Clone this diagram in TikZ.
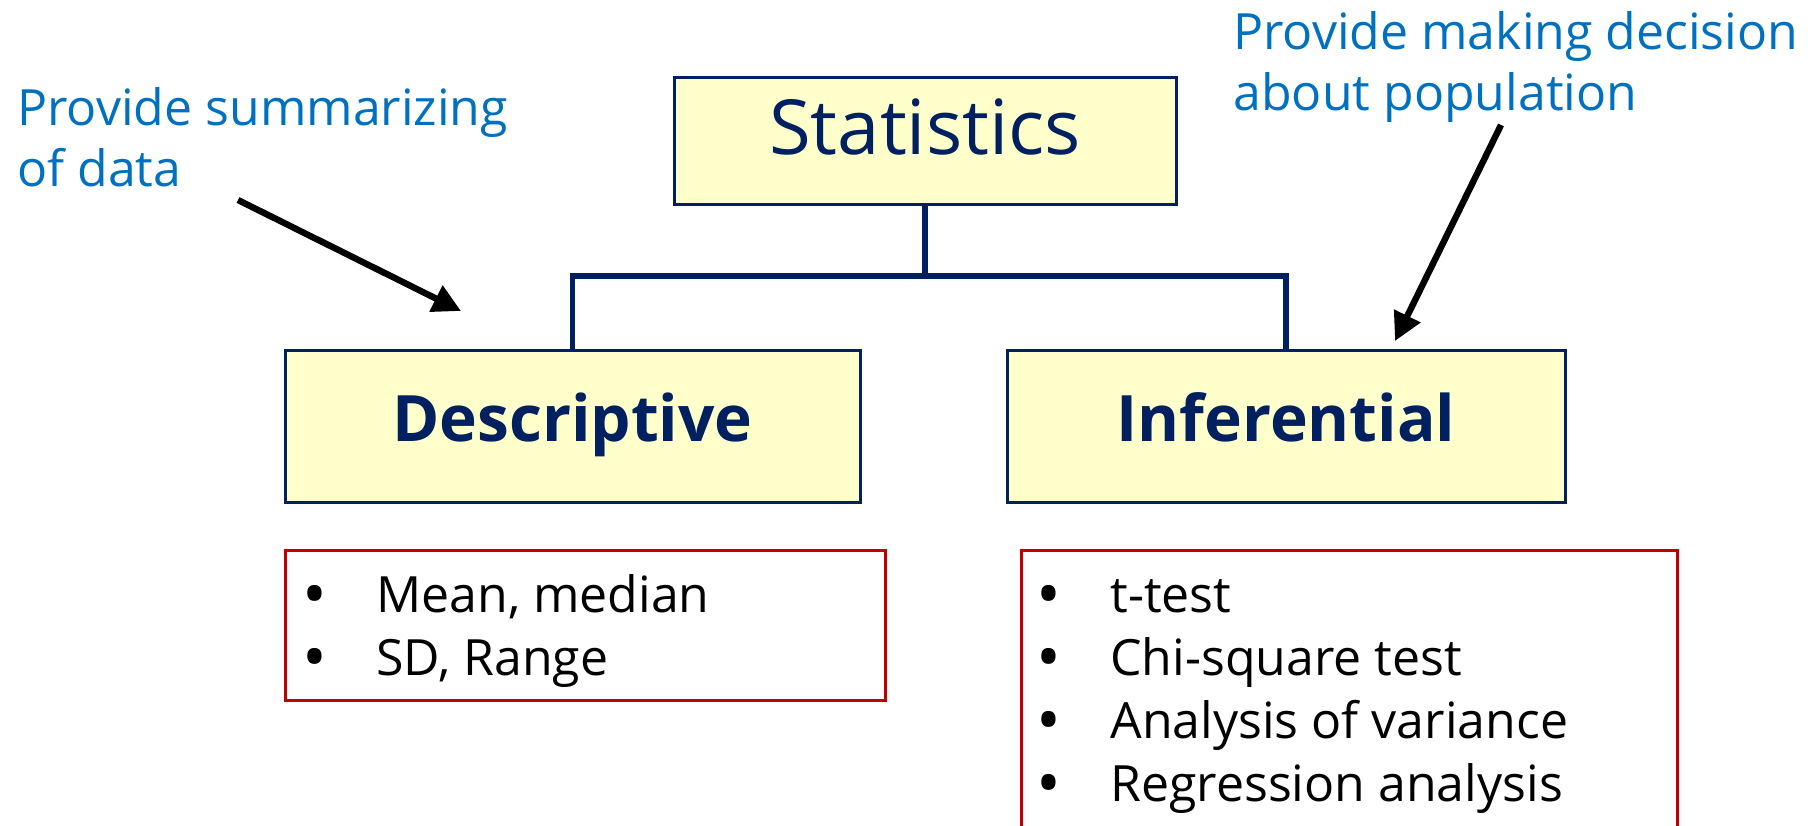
\documentclass[tikz,border=0pt]{standalone}
\usepackage{fontspec}
\setmainfont{Open Sans}
\usetikzlibrary{arrows.meta}
\definecolor{navy}{HTML}{002060}
\definecolor{paleyellow}{HTML}{FFFFCC}
\definecolor{darkred}{HTML}{C00000}
\definecolor{noteblue}{HTML}{0070C0}
\newcommand{\itembullet}{\raisebox{-2.5pt}{\fontsize{33}{31}\selectfont\textbullet}}
\begin{document}
\begin{tikzpicture}[x=0.5pt,y=-0.5pt,
  topbox/.style={draw=navy, line width=1.5pt, fill=paleyellow, text=navy, inner sep=0pt},
  listbox/.style={draw=darkred, line width=1.5pt, inner sep=0pt},
  conn/.style={draw=navy, line width=2.8pt},
  pointer/.style={draw=black, line width=3.2pt, -{Triangle[length=14pt,width=14pt]}},
  note/.style={text=noteblue, font=\fontsize{25}{30.5}\selectfont, inner sep=0pt, anchor=base west},
  items/.style={font=\fontsize{25}{31.6}\selectfont, inner sep=0pt, anchor=base west},
]
\useasboundingbox (0,0) rectangle (1819,825);
\clip (0,0) rectangle (1819,825);

% hierarchy boxes
\node[topbox, minimum width=251pt, minimum height=63.5pt, text depth=14pt,
      font=\fontsize{38}{40}\selectfont] (stat) at (925,140.5) {Statistics};
\node[topbox, minimum width=287.5pt, minimum height=76pt, text depth=9pt,
      font=\fontsize{32}{34}\selectfont\bfseries] (desc) at (572.5,426) {Descriptive};
\node[topbox, minimum width=279pt, minimum height=76pt, text depth=9pt,
      font=\fontsize{32}{34}\selectfont\bfseries] (infer) at (1286,426) {Inferential};

% tree connectors
\coordinate (bar) at (925,276);
\draw[conn] (stat.south) -- (bar);
\draw[conn] (desc.north) |- (bar) -| (infer.north);

% method lists
\node[listbox, minimum width=300pt, minimum height=75pt] (desclist) at (585,625) {};
\node[listbox, minimum width=328pt, minimum height=142.5pt] (inferlist) at (1349,692.5) {};
\node[items] (descitems) at (302,612)
  {\begin{tabular}[t]{@{}p{37pt}@{}l@{}}
   \itembullet & Mean, median\\
   \itembullet & SD, Range
   \end{tabular}};
\node[items] (inferitems) at (1036,612)
  {\begin{tabular}[t]{@{}p{37pt}@{}l@{}}
   \itembullet & t-test\\
   \itembullet & Chi-square test\\
   \itembullet & Analysis of variance\\
   \itembullet & Regression analysis
   \end{tabular}};

% annotations
\node[note] (note1) at (17,125)
  {\begin{tabular}[t]{@{}l@{}}Provide summarizing\\of data\end{tabular}};
\node[note] (note2) at (1233,49)
  {\begin{tabular}[t]{@{}l@{}}Provide making decision\\about population\end{tabular}};

\coordinate (p1from) at (238,200);
\coordinate (p1to) at (461,311);
\coordinate (p2from) at (1501,125);
\coordinate (p2to) at (1395,341);
\draw[pointer] (p1from) -- (p1to);
\draw[pointer] (p2from) -- (p2to);
\end{tikzpicture}
\end{document}
